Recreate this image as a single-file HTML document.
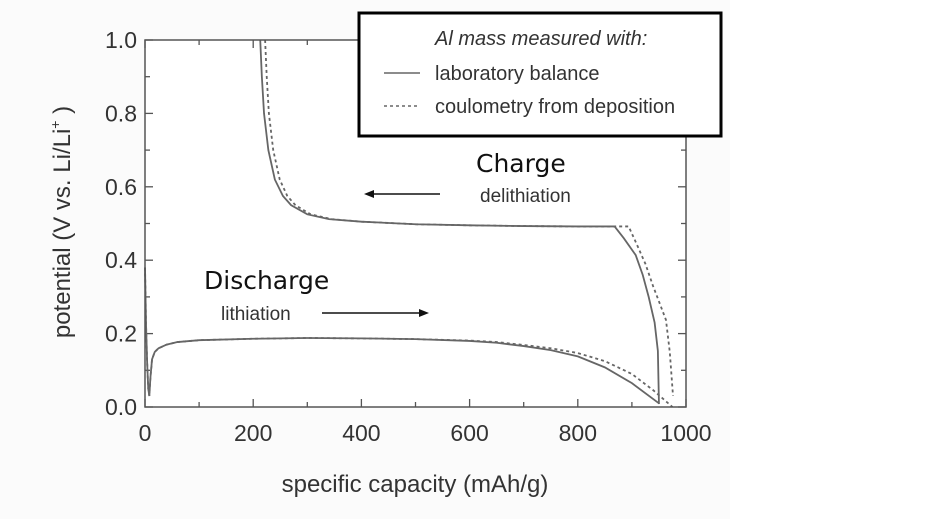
<!DOCTYPE html>
<html><head><meta charset="utf-8"><style>
body{margin:0;background:#fff;}
svg{display:block;font-family:"Liberation Sans",Arial,sans-serif;}
</style></head><body>
<svg width="928" height="519" viewBox="0 0 928 519">
<rect x="0" y="0" width="730" height="519" fill="#fbfbfb"/>
<g id="plot"></g>
<text x="415" y="492" font-size="24" text-anchor="middle" fill="#333">specific capacity (mAh/g)</text>
<text transform="translate(70,222) rotate(-90)" font-size="24" text-anchor="middle" fill="#333">potential (V vs. Li/Li<tspan dy="-10" font-size="14">+</tspan><tspan dy="10"> )</tspan></text>
<g>
<rect x="359" y="13" width="362" height="123" fill="#fff" stroke="#000" stroke-width="3"/>
<text x="435" y="45" font-size="20" font-style="italic" fill="#333">Al mass measured with:</text>
<line x1="384" y1="73" x2="420" y2="73" stroke="#666" stroke-width="1.6"/>
<text x="435" y="80" font-size="20" fill="#333">laboratory balance</text>
<line x1="384" y1="106" x2="420" y2="106" stroke="#666" stroke-width="1.6" stroke-dasharray="3,3"/>
<text x="435" y="113" font-size="20" fill="#333">coulometry from deposition</text>
</g>
<text x="476" y="172" font-size="25" fill="#111" font-family="'DejaVu Sans','Liberation Sans',sans-serif">Charge</text>
<text x="480" y="202" font-size="19" fill="#333">delithiation</text>
<line x1="440" y1="194" x2="372" y2="194" stroke="#111" stroke-width="1.5"/>
<polygon points="364,194 374,190 374,198" fill="#111"/>
<text x="204" y="289" font-size="25" fill="#111" font-family="'DejaVu Sans','Liberation Sans',sans-serif">Discharge</text>
<text x="221" y="320" font-size="19" fill="#333">lithiation</text>
<line x1="322" y1="313" x2="420" y2="313" stroke="#111" stroke-width="1.5"/>
<polygon points="429,313 419,309 419,317" fill="#111"/>
</svg>
<script>
const xTicks=[0,200,400,600,800,1000];
const yTicks=[0.0,0.2,0.4,0.6,0.8,1.0];
const chargeSolidX=[213,216,220,228,240,255,270,300,340,400,500,600,700,800,868,885,907,920,931,942,948,950];
const chargeSolidY=[1.0,0.9,0.8,0.7,0.62,0.575,0.55,0.525,0.512,0.505,0.498,0.495,0.493,0.492,0.492,0.46,0.414,0.36,0.30,0.23,0.153,0.008];
const chargeDashX=[222,225,229,237,249,263,278,306,345,400,500,600,700,800,894,910,925,939,952,963,970,976];
const chargeDashY=[1.0,0.9,0.8,0.7,0.62,0.575,0.55,0.525,0.512,0.505,0.498,0.495,0.493,0.492,0.492,0.44,0.39,0.33,0.28,0.237,0.15,0.03];
const dischSolidX=[0,2,4,6,8,10,13,18,25,40,60,100,200,300,400,500,600,650,700,750,800,850,900,950];
const dischSolidY=[0.38,0.22,0.12,0.05,0.03,0.08,0.13,0.15,0.16,0.17,0.177,0.182,0.186,0.188,0.187,0.185,0.18,0.175,0.166,0.155,0.138,0.108,0.065,0.01];
const dischDashX=[0,2,4,6,8,10,13,18,25,40,60,100,200,300,400,500,600,650,700,750,800,850,900,940,975];
const dischDashY=[0.38,0.22,0.12,0.05,0.03,0.08,0.13,0.15,0.16,0.17,0.177,0.182,0.186,0.188,0.187,0.185,0.181,0.177,0.169,0.16,0.147,0.125,0.09,0.045,0.0];
const X0=145,X1=686,Y0=407,Y1=40;
const sx=v=>X0+(v-0)/(1000)*(X1-X0);
const sy=v=>Y0-(v)/(1.0)*(Y0-Y1);
const NS="http://www.w3.org/2000/svg";
const g=document.getElementById('plot');
function mk(t,a){const e=document.createElementNS(NS,t);for(const k in a)e.setAttribute(k,a[k]);g.appendChild(e);return e;}
const bg=mk('rect',{x:X0,y:Y1,width:X1-X0,height:Y0-Y1,fill:'#fff'});


for(let v=0;v<=1000;v+=100){
 const t=mk('line',{x1:sx(v),x2:sx(v),y1:Y0,y2:Y0-(v%200===0?8:5),stroke:'#555','stroke-width':1.3});
 
 
 const t2=mk('line',{x1:sx(v),x2:sx(v),y1:Y1,y2:Y1+(v%200===0?8:5),stroke:'#555','stroke-width':1.3});
 
 
}
for(let i=0;i<=10;i++){const v=i/10;
 const t=mk('line',{x1:X0,x2:X0+(i%2===0?8:5),y1:sy(v),y2:sy(v),stroke:'#555','stroke-width':1.3});
 
 
 const t2=mk('line',{x1:X1,x2:X1-(i%2===0?8:5),y1:sy(v),y2:sy(v),stroke:'#555','stroke-width':1.3});
 
 
}
xTicks.forEach(v=>{const t=mk('text',{x:sx(v),y:Y0+34,'font-size':23,'text-anchor':'middle',fill:'#333'});t.textContent=v;
 
 });
yTicks.forEach(v=>{const t=mk('text',{x:X0-8,y:sy(v)+8,'font-size':23,'text-anchor':'end',fill:'#333'});t.textContent=v.toFixed(1);
 
 });
function line(xs,ys,dash,name){const p=mk('polyline',{points:xs.map((x,i)=>sx(x)+','+sy(ys[i])).join(' '),fill:'none',stroke:'#666','stroke-width':1.8,'stroke-dasharray':dash?'3,3':'none'});
 
 }
line(chargeDashX,chargeDashY,true,'charge-coulometry-line');
line(chargeSolidX,chargeSolidY,false,'charge-balance-line');
line(dischDashX,dischDashY,true,'discharge-coulometry-line');
line(dischSolidX,dischSolidY,false,'discharge-balance-line');
const fr=mk('rect',{x:X0,y:Y1,width:X1-X0,height:Y0-Y1,fill:'none',stroke:'#555','stroke-width':1.5});


</script>
</body></html>
